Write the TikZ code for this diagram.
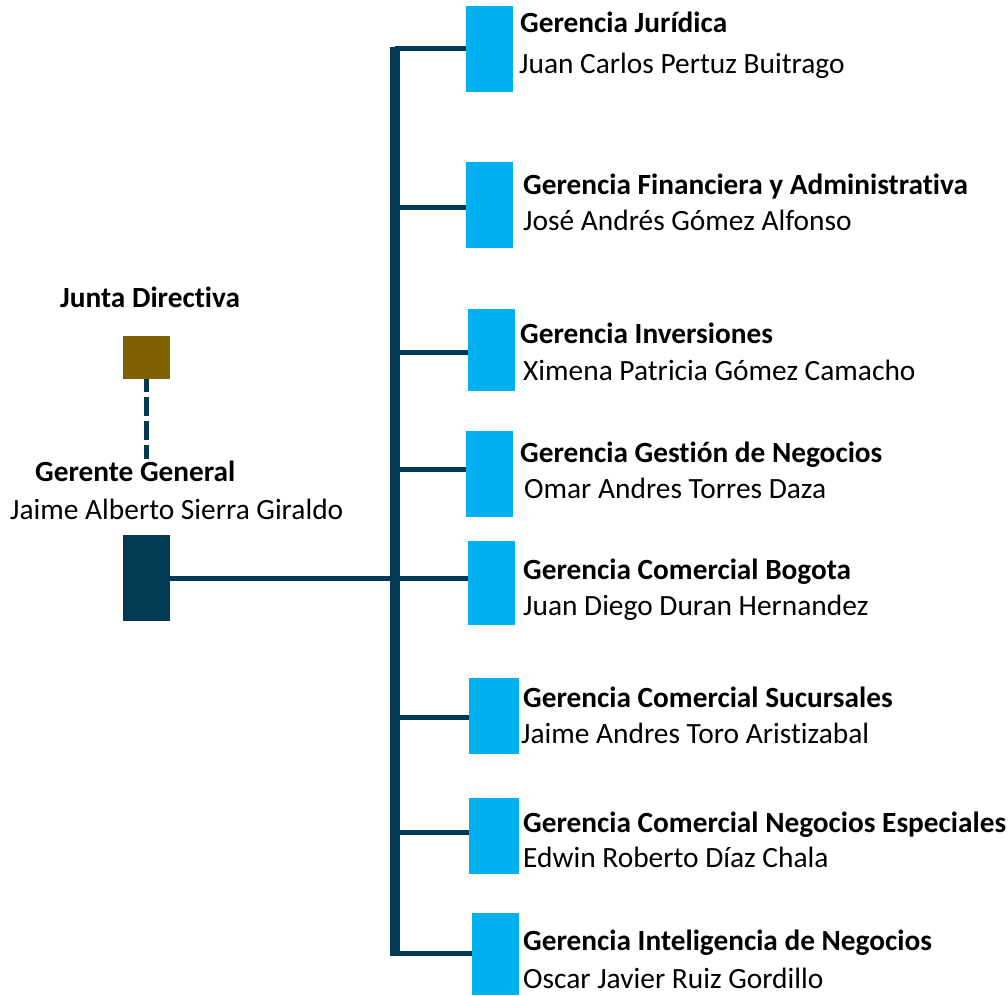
\documentclass[tikz,border=0pt]{standalone}
\usepackage{fontspec}
\setmainfont{Carlito}[Ligatures={NoCommon}]
\definecolor{navy}{HTML}{033A54}
\definecolor{lblue}{HTML}{00B0F0}
\definecolor{brownbox}{HTML}{7F6000}
\begin{document}
\begin{tikzpicture}[x=1pt,y=-1pt,
  box/.style={fill=lblue,draw=none,inner sep=0pt,anchor=north west},
  headtext/.style={anchor=base west,inner sep=0pt,font=\fontsize{29.3}{35}\selectfont\bfseries},
  persontext/.style={anchor=base west,inner sep=0pt,font=\fontsize{29.4}{35}\selectfont},
  trunkline/.style={draw=navy,line width=10pt},
  branch/.style={draw=navy,line width=5pt},
  dashline/.style={draw=navy,line width=5pt,dash pattern=on 19pt off 5pt,dash phase=6pt}]
\useasboundingbox (0,0) rectangle (1008,995);
% left side
\node[fill=brownbox,inner sep=0pt,minimum width=47pt,minimum height=43pt,anchor=north west] (jd) at (123,336) {};
\node[fill=navy,inner sep=0pt,minimum width=47pt,minimum height=86pt,anchor=north west] (gg) at (123,535) {};
\node[headtext] (jdt) at (60,307) {Junta Directiva};
\node[headtext] (ggt) at (35,481) {Gerente General};
\node[persontext] (ggn) at (10,519) {Jaime Alberto Sierra Giraldo};
\coordinate (dashend) at (145,459);
\draw[dashline] (jd.south) -- (jd.south |- dashend);
% boxes
\node[box,minimum width=47pt,minimum height=86pt] (b1) at (466,6) {};
\node[box,minimum width=47pt,minimum height=86pt] (b2) at (466,162) {};
\node[box,minimum width=47pt,minimum height=82pt] (b3) at (468,309) {};
\node[box,minimum width=47pt,minimum height=86pt] (b4) at (466,431) {};
\node[box,minimum width=47pt,minimum height=84pt] (b5) at (468,541) {};
\node[box,minimum width=50pt,minimum height=76pt] (b6) at (469,678) {};
\node[box,minimum width=50pt,minimum height=76pt] (b7) at (469,798) {};
\node[box,minimum width=47pt,minimum height=82pt] (b8) at (472,913) {};
% trunk
\coordinate (ttop) at (395,47);
\coordinate (tbot) at (395,956);
\draw[trunkline] (ttop) -- (tbot);
\coordinate (t1) at (395,49);
\coordinate (t2) at (395,207);
\coordinate (t3) at (395,352);
\coordinate (t4) at (395,469);
\coordinate (t5) at (395,578);
\coordinate (t6) at (395,717);
\coordinate (t7) at (395,832);
\coordinate (t8) at (395,953);
\draw[branch] (t1) -- (t1 -| b1.west);
\draw[branch] (t2) -- (t2 -| b2.west);
\draw[branch] (t3) -- (t3 -| b3.west);
\draw[branch] (t4) -- (t4 -| b4.west);
\draw[branch] (t5) -- (t5 -| b5.west);
\draw[branch] (t6) -- (t6 -| b6.west);
\draw[branch] (t7) -- (t7 -| b7.west);
\draw[branch] (t8) -- (t8 -| b8.west);
\draw[branch] (gg.east) -- (gg.east -| ttop);
% texts
\node[headtext] (h1) at (520,33) {Gerencia Jurídica};
\node[persontext] (n1) at (519,74) {Juan Carlos Pertuz Buitrago};
\node[headtext] (h2) at (523,194) {Gerencia Financiera y Administrativa};
\node[persontext] (n2) at (523,230) {José Andrés Gómez Alfonso};
\node[headtext] (h3) at (520,343) {Gerencia Inversiones};
\node[persontext] (n3) at (523,380) {Ximena Patricia Gómez Camacho};
\node[headtext] (h4) at (520,462) {Gerencia Gestión de Negocios};
\node[persontext] (n4) at (524,498) {Omar Andres Torres Daza};
\node[headtext] (h5) at (523,579) {Gerencia Comercial Bogota};
\node[persontext] (n5) at (523,615) {Juan Diego Duran Hernandez};
\node[headtext] (h6) at (523,707) {Gerencia Comercial Sucursales};
\node[persontext] (n6) at (521,743) {Jaime Andres Toro Aristizabal};
\node[headtext] (h7) at (523,832) {Gerencia Comercial Negocios Especiales};
\node[persontext] (n7) at (523,867) {Edwin Roberto Díaz Chala};
\node[headtext] (h8) at (523,950) {Gerencia Inteligencia de Negocios};
\node[persontext] (n8) at (523,988) {Oscar Javier Ruiz Gordillo};
\end{tikzpicture}
\end{document}
